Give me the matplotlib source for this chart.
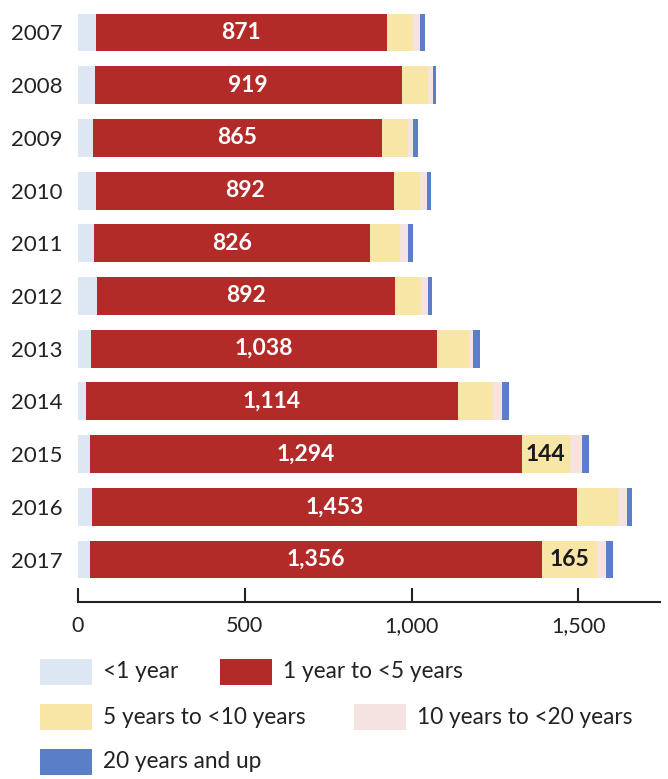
import matplotlib.pyplot as plt
from matplotlib.patches import Rectangle

plt.rcParams['font.family'] = ['Lato', 'DejaVu Sans']

# data
years = ['2007', '2008', '2009', '2010', '2011', '2012', '2013', '2014', '2015', '2016', '2017']
under_1 = [54, 51, 45, 54, 48, 57, 39, 24, 36, 42, 36]
y1_to_5 = [871, 919, 865, 892, 826, 892, 1038, 1114, 1294, 1453, 1356]
y5_to_10 = [78, 78, 78, 80, 90, 80, 96, 105, 144, 123, 165]
y10_to_20 = [21, 15, 15, 21, 24, 21, 12, 27, 36, 27, 27]
y20_up = [15, 9, 15, 12, 15, 12, 21, 21, 21, 15, 21]
labelled_5_to_10 = ['2015', '2017']

series = [under_1, y1_to_5, y5_to_10, y10_to_20, y20_up]
names = ['<1 year', '1 year to <5 years', '5 years to <10 years', '10 years to <20 years', '20 years and up']
colors = ['#dde6f3', '#b22b28', '#f8e6a6', '#f4e3de', '#5a7fc8']

fig = plt.figure(figsize=(6.68, 7.79), dpi=100)
ax = fig.add_axes([78 / 668, 1 - 602 / 779, 582 / 668, 602 / 779])

pos = list(range(len(years)))
left = [0] * len(years)
for vals, col in zip(series, colors):
    ax.barh(pos, vals, left=left, height=0.72, color=col, edgecolor='none')
    left = [l + v for l, v in zip(left, vals)]

# labels in the segments
for i, yr in enumerate(years):
    x_red = under_1[i] + y1_to_5[i] / 2
    ax.text(x_red, i, f'{y1_to_5[i]:,}', ha='center', va='center', color='white',
            fontsize=16.5, fontweight='bold')
    if yr in labelled_5_to_10:
        x_yel = under_1[i] + y1_to_5[i] + y5_to_10[i] / 2
        ax.text(x_yel, i, f'{y5_to_10[i]:,}', ha='center', va='center', color='#1a1a1a',
                fontsize=16.5, fontweight='bold')

ax.set_xlim(0, 1745)
ax.set_ylim(10 + 42.5 / 52.7, -32.5 / 52.7)
ax.set_yticks(pos)
ax.set_yticklabels(years, fontsize=16, color='#222222')
ax.set_xticks([0, 500, 1000, 1500])
ax.set_xticklabels(['0', '500', '1,000', '1,500'], fontsize=15.5, color='#222222')
ax.tick_params(axis='y', length=0, pad=11)
ax.tick_params(axis='x', direction='in', length=10, width=1.5, pad=10, color='#222222')
for s in ['top', 'right', 'left']:
    ax.spines[s].set_visible(False)
ax.spines['bottom'].set_linewidth(1.5)
ax.spines['bottom'].set_color('#222222')

# legend drawn by hand (flow layout)
W, H = 668, 779
legend_items = [
    (0, 40, 672), (1, 220, 672),
    (2, 40, 717), (3, 354, 717),
    (4, 40, 762),
]
for idx, x0, yc in legend_items:
    fig.patches.append(Rectangle((x0 / W, 1 - (yc + 13) / H), 52 / W, 26 / H,
                                 transform=fig.transFigure, facecolor=colors[idx],
                                 edgecolor='none'))
    fig.text((x0 + 63) / W, 1 - yc / H, names[idx], fontsize=16.3, va='center',
             ha='left', color='#222222')

fig.savefig('out.png', dpi=100)
